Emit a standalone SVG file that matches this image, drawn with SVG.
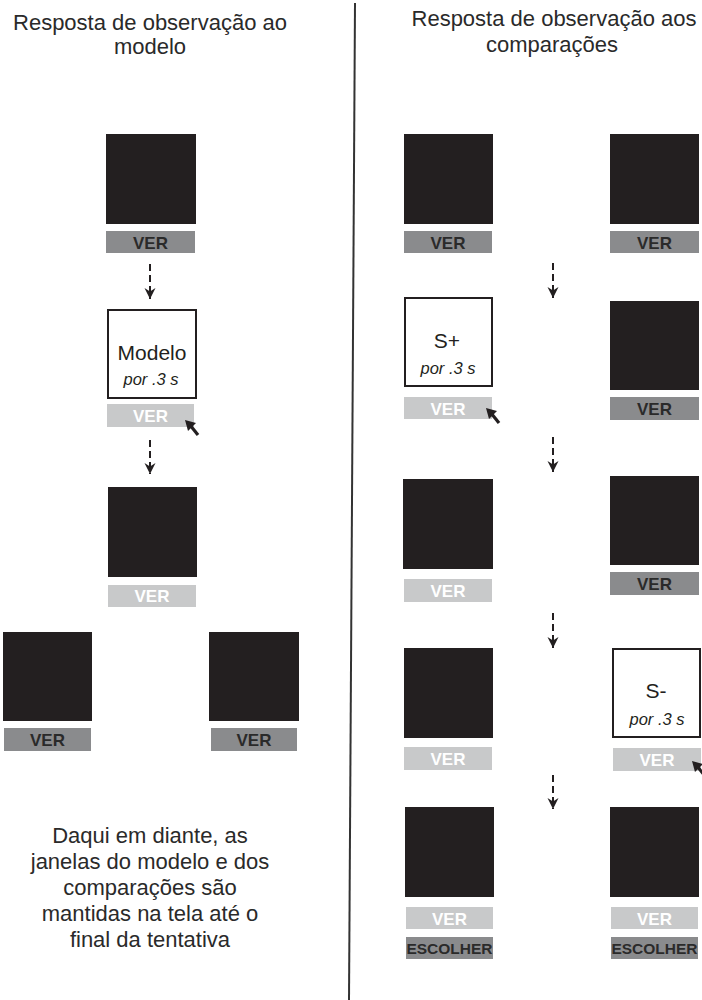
<svg xmlns="http://www.w3.org/2000/svg" xmlns:xlink="http://www.w3.org/1999/xlink" width="702" height="1000" viewBox="0 0 702 1000">
<style>
text{font-family:"Liberation Sans",Arial,sans-serif;text-anchor:middle}
.t{font-size:22px;fill:#2a2a2a}
.win{fill:#231f20}
.frame{fill:#fff;stroke:#231f20;stroke-width:2}
.dk{fill:#8a8b8d}
.lt{fill:#c8c9ca}
.vd{font-size:17px;font-weight:bold;fill:#2a2a2a}
.vl{font-size:17px;font-weight:bold;fill:#fff}
.esc{font-size:15.5px;font-weight:bold;fill:#2a2a2a}
.lab{font-size:21px;fill:#231f20}
.por{font-size:16.5px;font-style:italic;fill:#231f20}
.dash{stroke:#231f20;stroke-width:2;stroke-dasharray:7 4;fill:none}
</style>
<defs>
<marker id="ah" viewBox="0 -6 12 12" refX="11" refY="0" markerWidth="12" markerHeight="12" markerUnits="userSpaceOnUse" orient="auto">
<path d="M0,-5.5 L11,0 L0,5.5 L3.5,0 Z" fill="#231f20"/>
</marker>
<g id="cur">
<path d="M0,0 L11,3 L3,11 Z" fill="#231f20"/>
<line x1="5" y1="5" x2="13" y2="15" stroke="#231f20" stroke-width="3.2"/>
</g>
</defs>
<rect width="702" height="1000" fill="#fff"/>
<line id="divider" x1="355" y1="3" x2="349" y2="1000" stroke="#333" stroke-width="2"/>
<g id="titles">
<text class="t" x="150" y="30">Resposta de observação ao</text>
<text class="t" x="150" y="54">modelo</text>
<text class="t" x="554" y="26">Resposta de observação aos</text>
<text class="t" x="552" y="52">comparações</text>
</g>
<g id="L1"><rect class="win" x="106" y="134" width="90" height="90"/><rect class="dk" x="106" y="231" width="89" height="22"/><text class="vd" x="150.5" y="248.5">VER</text></g>
<g id="L2"><rect class="frame" x="108" y="310" width="88" height="88"/><text class="lab" x="152" y="360">Modelo</text><text class="por" x="151" y="385">por .3 s</text><rect class="lt" x="107" y="404" width="87" height="23"/><text class="vl" x="150.5" y="421.5">VER</text><use xlink:href="#cur" x="185" y="420"/></g>
<g id="L3"><rect class="win" x="108" y="487" width="89" height="90"/><rect class="lt" x="108" y="585" width="88" height="22"/><text class="vl" x="152" y="602">VER</text></g>
<g id="L4"><rect class="win" x="3" y="632" width="89" height="89"/><rect class="dk" x="4" y="728" width="87" height="23"/><text class="vd" x="47.5" y="745.5">VER</text></g>
<g id="L5"><rect class="win" x="209" y="632" width="90" height="89"/><rect class="dk" x="211" y="728" width="86" height="23"/><text class="vd" x="254" y="745.5">VER</text></g>
<g id="note">
<text class="t" x="150" y="843">Daqui em diante, as</text>
<text class="t" x="150" y="869">janelas do modelo e dos</text>
<text class="t" x="150" y="895">comparações são</text>
<text class="t" x="150" y="921">mantidas na tela até o</text>
<text class="t" x="150" y="947">final da tentativa</text>
</g>
<g id="R1a"><rect class="win" x="404" y="134" width="89" height="90"/><rect class="dk" x="404" y="231" width="88" height="22"/><text class="vd" x="448" y="248.5">VER</text></g>
<g id="R1b"><rect class="win" x="610" y="134" width="89" height="90"/><rect class="dk" x="610" y="231" width="89" height="22"/><text class="vd" x="654.5" y="248.5">VER</text></g>
<g id="R2a"><rect class="frame" x="405" y="298" width="87" height="88"/><text class="lab" x="447" y="348">S+</text><text class="por" x="448" y="374">por .3 s</text><rect class="lt" x="404" y="397" width="88" height="22"/><text class="vl" x="448" y="414.5">VER</text><use xlink:href="#cur" x="486" y="408"/></g>
<g id="R2b"><rect class="win" x="610" y="301" width="89" height="89"/><rect class="dk" x="610" y="397" width="89" height="23"/><text class="vd" x="654.5" y="414.5">VER</text></g>
<g id="R3a"><rect class="win" x="403" y="479" width="90" height="90"/><rect class="lt" x="404" y="579" width="88" height="23"/><text class="vl" x="448" y="596.5">VER</text></g>
<g id="R3b"><rect class="win" x="610" y="476" width="89" height="89"/><rect class="dk" x="610" y="572" width="89" height="23"/><text class="vd" x="654.5" y="589.5">VER</text></g>
<g id="R4a"><rect class="win" x="404" y="648" width="89" height="90"/><rect class="lt" x="404" y="747" width="88" height="23"/><text class="vl" x="448" y="764.5">VER</text></g>
<g id="R4b"><rect class="frame" x="613" y="649" width="87" height="88"/><text class="lab" x="656" y="698">S-</text><text class="por" x="657" y="725">por .3 s</text><rect class="lt" x="613" y="748" width="88" height="23"/><text class="vl" x="657" y="765.5">VER</text><use xlink:href="#cur" x="692" y="761"/></g>
<g id="R5a"><rect class="win" x="405" y="807" width="89" height="90"/><rect class="lt" x="406" y="907" width="87" height="22"/><text class="vl" x="449.5" y="924.5">VER</text><rect class="dk" x="406" y="937" width="87" height="22"/><text class="esc" x="449.5" y="954">ESCOLHER</text></g>
<g id="R5b"><rect class="win" x="610" y="807" width="89" height="90"/><rect class="lt" x="611" y="907" width="87" height="22"/><text class="vl" x="654.5" y="924.5">VER</text><rect class="dk" x="611" y="937" width="87" height="22"/><text class="esc" x="654.5" y="954">ESCOLHER</text></g>
<g id="connectors">
<line class="dash" x1="150" y1="264" x2="150" y2="299" marker-end="url(#ah)"/>
<line class="dash" x1="150" y1="440" x2="150" y2="474" marker-end="url(#ah)"/>
<line class="dash" x1="553" y1="263" x2="553" y2="298" marker-end="url(#ah)"/>
<line class="dash" x1="553" y1="437" x2="553" y2="472" marker-end="url(#ah)"/>
<line class="dash" x1="553" y1="613" x2="553" y2="648" marker-end="url(#ah)"/>
<line class="dash" x1="553" y1="775" x2="553" y2="809" marker-end="url(#ah)"/>
</g>
</svg>
